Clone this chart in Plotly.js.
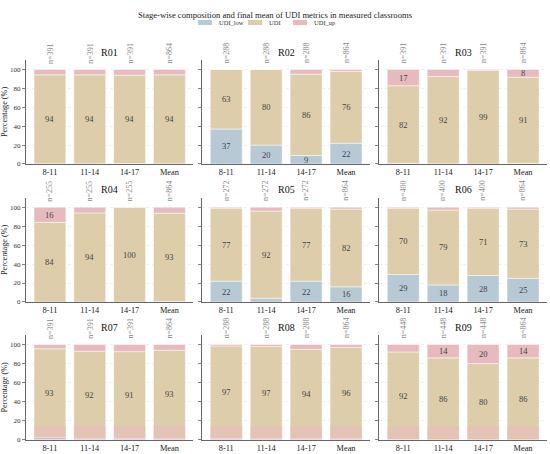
<!DOCTYPE html>
<html>
<head>
<meta charset="utf-8">
<script src="https://cdn.plot.ly/plotly-3.0.1.min.js"></script>
<style>html,body{margin:0;padding:0;background:#fff;}#chart{width:550px;height:454px;}</style>
</head>
<body>
<div id="chart"></div>
<script>
// ---- data ----
const stages = ['8-11', '11-14', '14-17', 'Mean'];
const rooms = ['R01', 'R02', 'R03', 'R04', 'R05', 'R06', 'R07', 'R08', 'R09'];
const seriesNames = ['UDI_low', 'UDI', 'UDI_up'];

const nR01 = [391, 391, 391, 864];
const nR02 = [288, 288, 288, 864];
const nR03 = [391, 391, 391, 864];
const nR04 = [255, 255, 255, 864];
const nR05 = [272, 272, 272, 864];
const nR06 = [400, 400, 400, 864];
const nR07 = [391, 391, 391, 864];
const nR08 = [288, 288, 288, 864];
const nR09 = [448, 448, 448, 864];

const lowR01 = [0.3, 0.3, 0.4, 0.3];
const udiR01 = [94, 94, 93.6, 94];
const upR01  = [5.7, 5.7, 6, 5.7];

const lowR02 = [37, 20, 9, 22];
const udiR02 = [63, 80, 86, 76];
const upR02  = [0, 0, 5, 2];

const lowR03 = [0.6, 0.3, 0, 0.6];
const udiR03 = [82.2, 92.3, 99, 91.2];
const upR03  = [17.2, 7.4, 1, 8.2];

const lowR04 = [0, 0, 0, 0.5];
const udiR04 = [84, 94, 100, 93];
const upR04  = [16, 6, 0, 6.5];

const lowR05 = [22, 4, 22, 16];
const udiR05 = [77, 92, 77, 82];
const upR05  = [1, 4, 1, 2];

const lowR06 = [29, 18, 28, 25];
const udiR06 = [70, 79, 71, 73];
const upR06  = [1, 3, 1, 2];

const lowR07 = [2.5, 1, 1.5, 1];
const udiR07 = [93, 92, 91, 93];
const upR07  = [4.5, 7, 7.5, 6];

const lowR08 = [1.5, 1, 1, 1];
const udiR08 = [97, 97, 94, 96];
const upR08  = [1.5, 2, 5, 3];

const lowR09 = [0.4, 0, 0, 0];
const udiR09 = [91.8, 86, 80, 86];
const upR09  = [7.8, 14, 20, 14];

// faint pink band seen at the foot of the bottom-row bars
const bandR07 = [14.5, 14.5, 14.5, 14.5];
const bandR08 = [14.5, 14.5, 14.5, 14.5];
const bandR09 = [14.5, 14.5, 14.5, 14.5];

const labelMin = 8;

// ---- assembly ----
const nData = [nR01, nR02, nR03, nR04, nR05, nR06, nR07, nR08, nR09];
const lowData = [lowR01, lowR02, lowR03, lowR04, lowR05, lowR06, lowR07, lowR08, lowR09];
const udiData = [udiR01, udiR02, udiR03, udiR04, udiR05, udiR06, udiR07, udiR08, udiR09];
const upData = [upR01, upR02, upR03, upR04, upR05, upR06, upR07, upR08, upR09];
const bandData = {6: bandR07, 7: bandR08, 8: bandR09};

const colors = ['#b8c9d6', '#ddcdab', '#e7babe'];
const FONT = 'Liberation Serif';

const colDom = [[0.0473, 0.3515], [0.3678, 0.6727], [0.6896, 0.9945]];
const rowDom = [[0.6388, 0.8678], [0.3348, 0.5645], [0.0315, 0.2621]];

const W = 550, H = 454;
const traces = [];
const annotations = [];
const shapes = [];
const layout = {
  width: W, height: H,
  margin: {l: 0, r: 0, t: 0, b: 0},
  paper_bgcolor: '#fff', plot_bgcolor: '#fff',
  barmode: 'overlay',
  font: {family: FONT, color: '#222'},
  showlegend: false,
  title: {text: 'Stage-wise composition and final mean of UDI metrics in measured classrooms',
          font: {size: 8.6, family: FONT, color: '#222'}, x: 0.5, xanchor: 'center', y: 1 - 15 / H, yanchor: 'middle'},
  annotations: annotations,
  shapes: shapes
};

// hand-built compact legend (patch + label), positions in pixels
const legendPatchX = [198, 248, 293];
const legendY = 22.5;
seriesNames.forEach((nm, s) => {
  shapes.push({type: 'rect', xref: 'paper', yref: 'paper',
    x0: legendPatchX[s] / W, x1: (legendPatchX[s] + 14) / W,
    y0: 1 - (legendY + 2.5) / H, y1: 1 - (legendY - 2.5) / H,
    fillcolor: colors[s], line: {width: 0}});
  annotations.push({xref: 'paper', yref: 'paper', x: (legendPatchX[s] + 19) / W, y: 1 - legendY / H,
    text: nm, showarrow: false, xanchor: 'left', yanchor: 'middle',
    font: {size: 6.5, family: FONT, color: '#333'}});
});

rooms.forEach((room, i) => {
  const r = Math.floor(i / 3), c = i % 3;
  const sfx = i === 0 ? '' : String(i + 1);
  const xa = 'x' + sfx, ya = 'y' + sfx;
  const low = lowData[i], udi = udiData[i], up = upData[i];
  const segs = [low, udi, up];
  const bases = [
    low.map(() => 0),
    low.slice(),
    low.map((v, k) => v + udi[k])
  ];
  segs.forEach((vals, s) => {
    traces.push({
      type: 'bar', x: stages, y: vals, base: bases[s],
      name: seriesNames[s],
      marker: {color: colors[s], line: {color: 'rgba(255,255,255,0.8)', width: 0.6}},
      width: 0.8, xaxis: xa, yaxis: ya, hoverinfo: 'skip'
    });
    vals.forEach((v, k) => {
      if (v >= labelMin) {
        annotations.push({
          x: stages[k], y: bases[s][k] + v / 2, xref: xa, yref: ya,
          text: String(Math.round(v)), showarrow: false,
          font: {size: 8.5, family: FONT, color: '#444'}, xanchor: 'center', yanchor: 'middle'
        });
      }
    });
  });
  if (bandData[i]) {
    traces.push({
      type: 'bar', x: stages, y: bandData[i], base: stages.map(() => 0),
      marker: {color: 'rgba(236,180,190,0.42)', line: {width: 0}},
      width: 0.8, xaxis: xa, yaxis: ya, hoverinfo: 'skip'
    });
  }
  // n labels
  nData[i].forEach((n, k) => {
    annotations.push({
      x: stages[k], y: 110, xref: xa, yref: ya, yshift: 7,
      text: 'n=' + n, textangle: -90, showarrow: false,
      font: {size: 8, family: FONT, color: '#8a8a8a'}, xanchor: 'center', yanchor: 'middle'
    });
  });
  // panel title
  annotations.push({
    x: (colDom[c][0] + colDom[c][1]) / 2, xref: 'paper', y: 110, yref: ya, yshift: 8,
    text: room, showarrow: false, font: {size: 10, family: FONT, color: '#111'},
    xanchor: 'center', yanchor: 'middle'
  });

  layout['xaxis' + sfx] = {
    domain: colDom[c], anchor: ya, type: 'category', range: [-0.6, 3.6],
    showline: true, linecolor: '#666', linewidth: 1, ticks: '', showgrid: false, zeroline: false,
    tickfont: {size: 8.3, family: FONT, color: '#222'}, fixedrange: true
  };
  layout['yaxis' + sfx] = {
    domain: rowDom[r], anchor: xa, range: [0, 110],
    tickvals: [0, 20, 40, 60, 80, 100],
    showticklabels: c === 0,
    ticks: 'outside', ticklen: 3, tickcolor: '#666', tickwidth: 0.8,
    showline: true, linecolor: '#666', linewidth: 1,
    showgrid: true, gridcolor: '#ececec', griddash: 'dot', gridwidth: 0.8, zeroline: false,
    tickfont: {size: 7, family: FONT, color: '#333'}, fixedrange: true,
    title: c === 0 ? {text: 'Percentage (%)', font: {size: 8.2, family: FONT, color: '#222'}, standoff: 4} : {text: ''}
  };
});

Plotly.newPlot('chart', traces, layout, {displayModeBar: false, staticPlot: true});
</script>
</body>
</html>
